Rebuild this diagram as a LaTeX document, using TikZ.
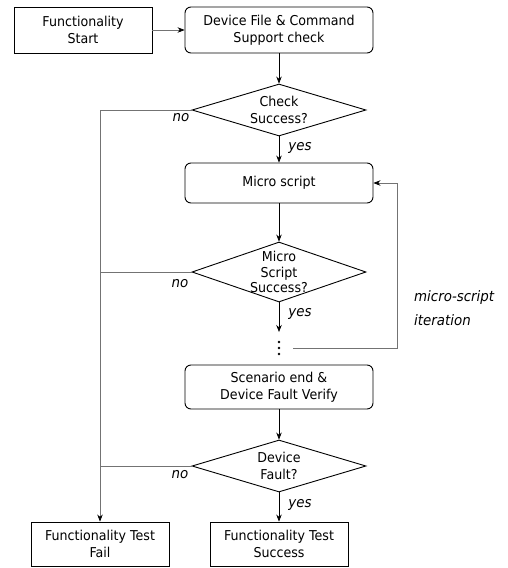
\documentclass[tikz,border=0pt]{standalone}
\usepackage{fontspec}
\setmainfont[FakeStretch=0.93]{DejaVu Sans}
\usetikzlibrary{arrows.meta,shapes.geometric}
\begin{document}
\begin{tikzpicture}[x=1pt,y=-1pt,
  font=\fontsize{13.6}{17}\selectfont,
  every node/.style={inner sep=0pt},
  plainbox/.style={draw=black,line width=0.9pt,fill=white,minimum width=138pt,minimum height=44pt,align=center},
  roundbox/.style={draw=black,line width=0.9pt,fill=white,rounded corners=6pt,minimum width=188pt,align=center},
  decision/.style={diamond,draw=black,line width=0.9pt,minimum width=174pt},
  flow/.style={draw=black,line width=0.7pt,-{Stealth[length=7pt,width=5.5pt]}},
  branch/.style={draw=black!55,line width=0.7pt},
  branchto/.style={branch,-{Stealth[length=7pt,width=5.5pt,color=black]}},
  tag/.style={font=\fontsize{14.4}{16}\selectfont\itshape}
]
\useasboundingbox (0,0) rectangle (507,568);

% process boxes
\node[plainbox,minimum height=46pt] (start) at (83,30) {Functionality\\Start};
\node[roundbox,minimum height=46pt] (support) at (279,30) {Device File \& Command\\Support check};
\node[roundbox,minimum height=40pt] (micro) at (279,183) {Micro script};
\node[roundbox,minimum height=44pt] (scen) at (279,387) {Scenario end \&\\Device Fault Verify};
\node[plainbox] (fail) at (100,544) {Functionality Test\\Fail};
\node[plainbox] (succ) at (279,544) {Functionality Test\\Success};

% decisions
\node[decision,minimum height=52pt,
  label={[align=center]center:Check\\Success?}] (chk) at (279,110) {};
\node[decision,minimum height=60pt,
  label={[align=center,font=\fontsize{13.6}{15.5}\selectfont]center:Micro\\Script\\Success?}] (ms) at (279,272) {};
\node[decision,minimum height=52pt,
  label={[align=center]center:Device\\Fault?}] (flt) at (279,466) {};

% continuation marker: three stacked dots
\node[minimum width=4pt,minimum height=16pt] (dots) at (279,348) {};
\fill (dots.center) ++(0,-6) circle (1.3pt);
\fill (dots.center) circle (1.3pt);
\fill (dots.center) ++(0,6) circle (1.3pt);
\coordinate (loopend) at (293,348);
\coordinate (msend) at (279,332);
\coordinate (failbus) at (100,110);

% main flow
\draw[branchto] (start) -- (support);
\draw[flow] (support) -- (chk);
\draw[flow] (chk) -- (micro);
\draw[flow] (micro) -- (ms);
\draw[flow] (ms) -- (msend);
\draw[flow] (scen) -- (flt);
\draw[flow] (flt) -- (succ);

% iteration loop
\draw[branchto] (loopend) -- (397,348) |- (micro.east);

% failure branches
\draw[branchto] (chk.west) -- (failbus) -- (fail.north);
\draw[branch] (ms.west) -- (ms.west -| failbus);
\draw[branch] (flt.west) -- (flt.west -| failbus);

% branch labels
\node[tag] (no1) at (181,118) {no};
\node[tag] (yes1) at (300,148) {yes};
\node[tag] (no2) at (180,284) {no};
\node[tag] (yes2) at (300,314) {yes};
\node[tag] (no3) at (180,475) {no};
\node[tag] (yes3) at (300,505) {yes};
\node[tag,anchor=west] (iter1) at (414,298) {micro-script};
\node[tag,anchor=west] (iter2) at (414,320) {iteration};
\end{tikzpicture}
\end{document}
